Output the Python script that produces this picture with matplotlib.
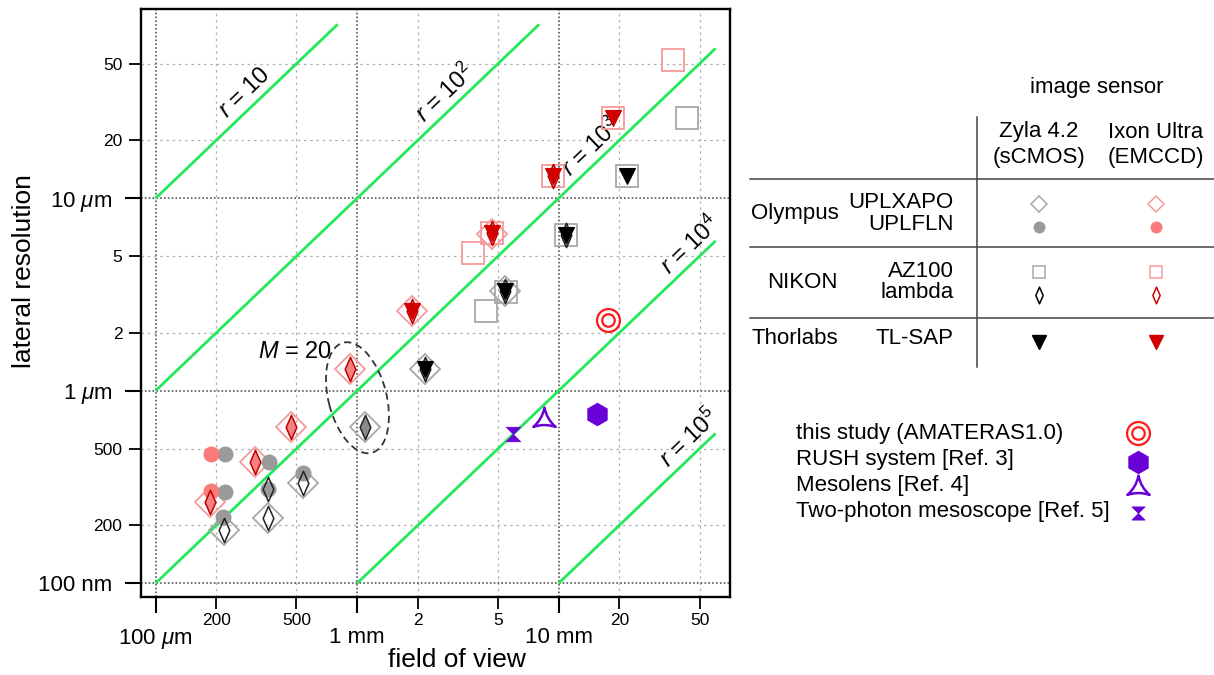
import numpy as np
import matplotlib
matplotlib.use('Agg')
import matplotlib.pyplot as plt
from matplotlib.path import Path
from matplotlib.patches import Ellipse
from matplotlib.lines import Line2D
from matplotlib.ticker import FixedLocator, FixedFormatter
import matplotlib.transforms as mtransforms

plt.rcParams['font.family'] = ['Liberation Sans', 'DejaVu Sans']
plt.rcParams['mathtext.fontset'] = 'custom'
plt.rcParams['mathtext.rm'] = 'Liberation Sans'
plt.rcParams['mathtext.it'] = 'Liberation Sans:italic'

# ---------------- data: field of view [mm], lateral resolution [um] -------------
uplxapo_zyla_x = [0.219, 0.362, 0.540, 1.093, 2.171, 5.41]
uplxapo_zyla_y = [0.190, 0.217, 0.330, 0.650, 1.30, 3.30]
uplxapo_ixon_x = [0.186, 0.311, 0.468, 0.921, 1.864, 4.65]
uplxapo_ixon_y = [0.265, 0.428, 0.650, 1.30, 2.61, 6.50]

uplfln_zyla_x = [0.221, 0.221, 0.217, 0.366, 0.362, 0.540]
uplfln_zyla_y = [0.467, 0.299, 0.222, 0.428, 0.309, 0.372]
uplfln_ixon_x = [0.1875, 0.1875]
uplfln_ixon_y = [0.467, 0.302]

az100_zyla_x = [4.34, 5.46, 10.87, 21.76, 43.5]
az100_zyla_y = [2.61, 3.27, 6.44, 13.0, 26.0]
az100_ixon_x = [3.74, 4.65, 9.34, 18.67, 37.05]
az100_ixon_y = [5.17, 6.57, 13.0, 26.0, 52.2]

lambda_zyla_open_x = [0.219, 0.362, 0.362, 0.540]
lambda_zyla_open_y = [0.190, 0.217, 0.309, 0.330]
lambda_zyla_shaded_x = [1.093, 2.171, 5.41, 10.87]
lambda_zyla_shaded_y = [0.650, 1.30, 3.30, 6.44]
lambda_ixon_shaded_x = [0.186, 0.311, 0.468, 0.921, 1.864, 4.65, 9.34]
lambda_ixon_shaded_y = [0.265, 0.428, 0.650, 1.30, 2.61, 6.57, 13.0]

tlsap_zyla_x = [2.171, 5.41, 10.87, 21.76]
tlsap_zyla_y = [1.30, 3.30, 6.44, 13.0]
tlsap_ixon_x = [1.864, 4.65, 9.34, 18.67]
tlsap_ixon_y = [2.61, 6.57, 13.0, 26.0]

this_study = (17.5, 2.33)
rush = (15.54, 0.757)
mesolens = (8.48, 0.704)
two_photon = (5.95, 0.596)

r_values = [10, 100, 1000, 10000, 100000]
r_labels = [r'$r$ = 10', r'$r$ = 10$^2$', r'$r$ = 10$^3$', r'$r$ = 10$^4$', r'$r$ = 10$^5$']

x_major = [0.1, 1, 10]
x_major_labels = [r'100 $\mu$m', '1 mm', '10 mm']
x_minor = [0.2, 0.5, 2, 5, 20, 50]
x_minor_labels = ['200', '500', '2', '5', '20', '50']
y_major = [0.1, 1, 10]
y_major_labels = ['100 nm', r'1 $\mu$m', r'10 $\mu$m']
y_minor = [0.2, 0.5, 2, 5, 20, 50]
y_minor_labels = ['200', '500', '2', '5', '20', '50']

# ---------------- styles ----------------
GRAY_EDGE = '#a8a8a8'
GRAY_FILL = '#9a9a9a'
PINK_EDGE = '#f59a9a'
PINK_FILL = '#fb7b7b'
DARK_RED = '#d00000'
PURPLE = '#6a00d8'
GREEN = '#22e85a'

thin_diamond = Path([(0, 1), (0.44, 0), (0, -1), (-0.44, 0), (0, 1)],
                    [Path.MOVETO, Path.LINETO, Path.LINETO, Path.LINETO, Path.CLOSEPOLY])
hourglass = Path([(-1, 1), (1, 1), (0, 0), (1, -1), (-1, -1), (0, 0), (-1, 1)],
                 [Path.MOVETO, Path.LINETO, Path.LINETO, Path.LINETO, Path.LINETO, Path.LINETO, Path.CLOSEPOLY])


def _dirv(deg, rad):
    return (rad * np.cos(np.radians(deg)), rad * np.sin(np.radians(deg)))


p0, p1, p2 = _dirv(90, 1), _dirv(210, 1), _dirv(330, 1)
c01, c12, c20 = _dirv(150, 0.2), _dirv(270, 0.2), _dirv(30, 0.2)
tri_star = Path([p0, c01, p1, c12, p2, c20, p0, p0],
                [Path.MOVETO, Path.CURVE3, Path.CURVE3, Path.CURVE3, Path.CURVE3,
                 Path.CURVE3, Path.CURVE3, Path.CLOSEPOLY])

W, H = 1214, 675
fig = plt.figure(figsize=(W / 100, H / 100), dpi=100)
L, R, T, B = 141, 730, 9.3, 596.7
ax = fig.add_axes([L / W, 1 - B / H, (R - L) / W, (B - T) / H])
ax.set_xscale('log')
ax.set_yscale('log')
ax.set_xlim(0.0846, 70.8)
ax.set_ylim(0.0851, 95.8)

for s in ax.spines.values():
    s.set_linewidth(1.7)

ax.xaxis.set_major_locator(FixedLocator(x_major))
ax.xaxis.set_major_formatter(FixedFormatter(x_major_labels))
ax.xaxis.set_minor_locator(FixedLocator(x_minor))
ax.xaxis.set_minor_formatter(FixedFormatter(x_minor_labels))
ax.yaxis.set_major_locator(FixedLocator(y_major))
ax.yaxis.set_major_formatter(FixedFormatter(y_major_labels))
ax.yaxis.set_minor_locator(FixedLocator(y_minor))
ax.yaxis.set_minor_formatter(FixedFormatter(y_minor_labels))
ax.tick_params(which='major', length=11.5, width=1.5, labelsize=16)
ax.tick_params(which='minor', length=8.5, width=1.3, labelsize=12.5)
ax.tick_params(axis='x', which='major', pad=10)
ax.tick_params(axis='x', which='minor', pad=3)
ax.tick_params(axis='y', which='major', pad=9)
ax.tick_params(axis='y', which='minor', pad=5)

ax.grid(which='major', color='#555555', lw=1.2, ls=(0, (1, 1.3)))
ax.grid(which='minor', color='#b0b0b0', lw=0.9, ls=(0, (2, 3)))
ax.set_axisbelow(True)

# ---------------- r = FOV / resolution lines ----------------
xmin_c, xmax_c, ymin_c, ymax_c = 0.1, 60, 0.1, 80
label_x = [0.31, 3.08, 16.2, 50.5, 50.0]
for r, lab, lx in zip(r_values, r_labels, label_x):
    x0 = max(xmin_c, ymin_c * r / 1000)
    x1 = min(xmax_c, ymax_c * r / 1000)
    xs = np.array([x0, x1])
    ax.plot(xs, xs * 1000 / r, color=GREEN, lw=2.0, zorder=2, solid_capstyle='butt')
    a = ax.transData.transform([(x0, x0 * 1000 / r), (x1, x1 * 1000 / r)])
    ang = np.degrees(np.arctan2(a[1, 1] - a[0, 1], a[1, 0] - a[0, 0]))
    ax.annotate(lab, xy=(lx, lx * 1000 / r), xytext=(-10, 10.5), textcoords='offset pixels',
                rotation=ang, ha='center', va='center', rotation_mode='anchor', fontsize=17,
                zorder=3)

# ---------------- data markers ----------------
def mk(xs, ys, **kw):
    ax.plot(xs, ys, ls='none', **kw)

mk(az100_zyla_x, az100_zyla_y, marker='s', ms=15.5, mfc='none', mec=GRAY_EDGE, mew=1.3, zorder=4)
mk(az100_ixon_x, az100_ixon_y, marker='s', ms=15.5, mfc='none', mec=PINK_EDGE, mew=1.3, zorder=4)
mk(uplxapo_zyla_x, uplxapo_zyla_y, marker='D', ms=15.3, mfc='none', mec=GRAY_EDGE, mew=1.3, zorder=4)
mk(uplxapo_ixon_x, uplxapo_ixon_y, marker='D', ms=15.3, mfc='none', mec=PINK_EDGE, mew=1.3, zorder=4)
mk(uplfln_zyla_x, uplfln_zyla_y, marker='o', ms=11.5, mfc=GRAY_FILL, mec='none', zorder=5)
mk(uplfln_ixon_x, uplfln_ixon_y, marker='o', ms=11.5, mfc=PINK_FILL, mec='none', zorder=5)
mk(lambda_zyla_open_x, lambda_zyla_open_y, marker=thin_diamond, ms=17.5, mfc='none', mec='#222222', mew=1.1, zorder=6)
mk(lambda_zyla_shaded_x, lambda_zyla_shaded_y, marker=thin_diamond, ms=17.5, mfc='#8a8a8a', mec='#222222', mew=1.1, zorder=6)
mk(lambda_ixon_shaded_x, lambda_ixon_shaded_y, marker=thin_diamond, ms=17.5, mfc='#f88080', mec='#c00000', mew=1.1, zorder=6)
mk(tlsap_zyla_x, tlsap_zyla_y, marker='v', ms=11, mfc='black', mec='black', mew=0.8, zorder=7)
mk(tlsap_ixon_x, tlsap_ixon_y, marker='v', ms=11, mfc=DARK_RED, mec=DARK_RED, mew=0.8, zorder=7)

mk([this_study[0]], [this_study[1]], marker='o', ms=16.5, mfc='none', mec='#ff1a1a', mew=1.6, zorder=7)
mk([this_study[0]], [this_study[1]], marker='o', ms=9.0, mfc='none', mec='#ff1a1a', mew=1.6, zorder=7)
mk([rush[0]], [rush[1]], marker='h', ms=15.8, mfc=PURPLE, mec=PURPLE, zorder=7)
mk([mesolens[0]], [mesolens[1]], marker=tri_star, ms=18.5, mfc='none', mec=PURPLE, mew=1.8, zorder=7)
mk([two_photon[0]], [two_photon[1]], marker=hourglass, ms=10.5, mfc=PURPLE, mec=PURPLE, mew=0.5, zorder=7)

# ---------------- M = 20 ellipse ----------------
pa = ax.transData.transform((uplxapo_ixon_x[3], uplxapo_ixon_y[3]))
pb = ax.transData.transform((uplxapo_zyla_x[3], uplxapo_zyla_y[3]))
cen = (pa + pb) / 2
d = pb - pa
dist = np.hypot(*d)
ang = np.degrees(np.arctan2(d[1], d[0]))
ell = Ellipse(cen, width=dist * 1.9, height=58, angle=ang, fill=False, ls=(0, (4, 2.5)),
              lw=1.3, ec='#333333', transform=mtransforms.IdentityTransform(), zorder=8)
ax.add_artist(ell)
ax.annotate(r'$M$ = 20', xy=(uplxapo_ixon_x[3], uplxapo_ixon_y[3]), xytext=(-18, 17),
            textcoords='offset pixels', ha='right', va='center', fontsize=17)

# ---------------- axis labels ----------------
def fp(x, y):
    return (x / W, 1 - y / H)

fig.text(*fp(457, 660), 'field of view', ha='center', va='center', fontsize=19)
fig.text(*fp(24, 271), 'lateral resolution', ha='center', va='center', fontsize=19, rotation=90)

# ---------------- marker table legend ----------------
TS = 16
fig.text(*fp(1097, 88), 'image sensor', ha='center', va='center', fontsize=TS)
fig.text(*fp(1039, 132), 'Zyla 4.2', ha='center', va='center', fontsize=TS)
fig.text(*fp(1039, 158), '(sCMOS)', ha='center', va='center', fontsize=TS)
fig.text(*fp(1156, 132), 'Ixon Ultra', ha='center', va='center', fontsize=TS)
fig.text(*fp(1156, 158), '(EMCCD)', ha='center', va='center', fontsize=TS)
fig.text(*fp(751, 214), 'Olympus', ha='left', va='center', fontsize=TS)
fig.text(*fp(838, 282), 'NIKON', ha='right', va='center', fontsize=TS)
fig.text(*fp(751, 338), 'Thorlabs', ha='left', va='center', fontsize=TS)
fig.text(*fp(954, 203), 'UPLXAPO', ha='right', va='center', fontsize=TS)
fig.text(*fp(954, 225), 'UPLFLN', ha='right', va='center', fontsize=TS)
fig.text(*fp(954, 271), 'AZ100', ha='right', va='center', fontsize=TS)
fig.text(*fp(954, 293), 'lambda', ha='right', va='center', fontsize=TS)
fig.text(*fp(954, 338), 'TL-SAP', ha='right', va='center', fontsize=TS)

LC = '#444444'
for y in (179, 246.7, 317.7):
    fig.add_artist(Line2D([750 / W, 1.0], [1 - y / H] * 2, transform=fig.transFigure, color=LC, lw=1.1))
fig.add_artist(Line2D([976.7 / W] * 2, [1 - 116.7 / H, 1 - 366.7 / H], transform=fig.transFigure, color=LC, lw=1.1))

def fmk(x, y, **kw):
    fig.add_artist(Line2D([x / W], [1 - y / H], transform=fig.transFigure, ls='none', **kw))

for xc, ec, fc, dk in ((1039, GRAY_EDGE, GRAY_FILL, 'black'), (1156, PINK_EDGE, PINK_FILL, DARK_RED)):
    fmk(xc, 204, marker='D', ms=8, mfc='none', mec=ec, mew=1.1)
    fmk(xc, 227, marker='o', ms=8.6, mfc=fc, mec='none')
    fmk(xc, 272, marker='s', ms=8.2, mfc='none', mec=ec, mew=1.1)
    fmk(xc, 295, marker=thin_diamond, ms=12, mfc='none', mec=dk, mew=1.1)
    fmk(xc, 341.5, marker='v', ms=10, mfc=dk, mec=dk)

# ---------------- other systems legend ----------------
leg_items = ['this study (AMATERAS1.0)', 'RUSH system [Ref. 3]', 'Mesolens [Ref. 4]',
             'Two-photon mesoscope [Ref. 5]']
ys = [433, 459, 485, 512]
for t, y in zip(leg_items, ys):
    fig.text(*fp(796, y), t, ha='left', va='center', fontsize=TS)
fmk(1138, 433, marker='o', ms=16.5, mfc='none', mec='#ff1a1a', mew=1.6)
fmk(1138, 433, marker='o', ms=9.0, mfc='none', mec='#ff1a1a', mew=1.6)
fmk(1138, 461.5, marker='h', ms=15.8, mfc=PURPLE, mec=PURPLE)
fmk(1138, 488, marker=tri_star, ms=18.5, mfc='none', mec=PURPLE, mew=1.8)
fmk(1138, 513, marker=hourglass, ms=9.5, mfc=PURPLE, mec=PURPLE, mew=0.5)

fig.savefig('out.png', dpi=100)
